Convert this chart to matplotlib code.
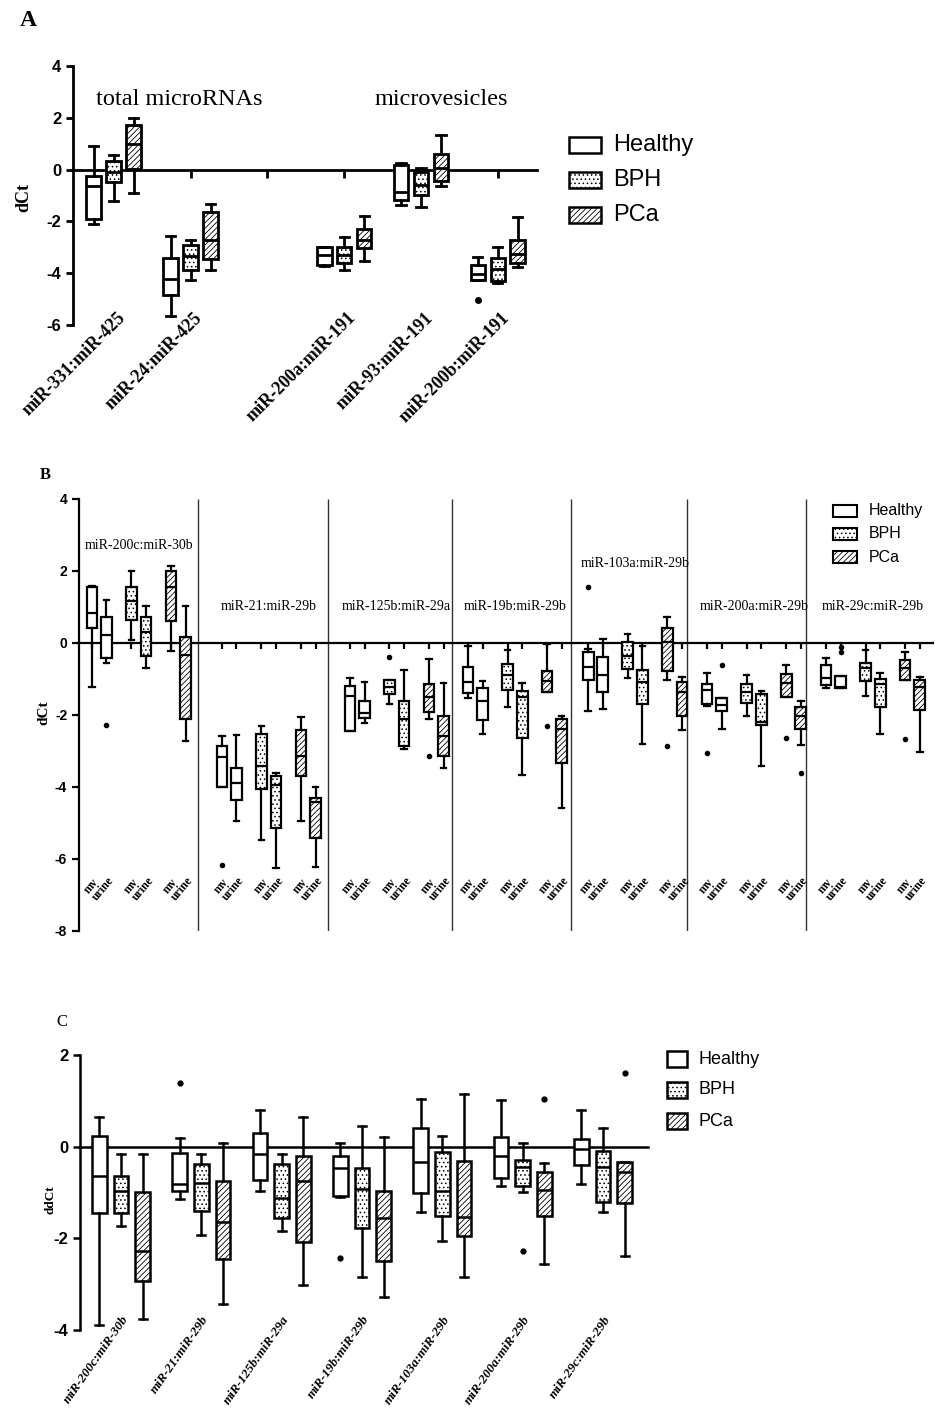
import numpy as np
import matplotlib.pyplot as plt
from matplotlib.patches import Rectangle

SERIF = ['Liberation Serif', 'DejaVu Serif']
SANS = ['Liberation Sans', 'DejaVu Sans']
NARROW = ['Liberation Sans Narrow', 'Liberation Sans', 'DejaVu Sans']
plt.rcParams['hatch.linewidth'] = 0.6

W, H = 935, 1416

# ---------------- data ----------------
groups = ['Healthy', 'BPH', 'PCa']
hatches = ['', '....', '//////']

# each box: (low whisker, q1, median, q3, high whisker); None = empty slot
a_labels = ['miR-331:miR-425', 'miR-24:miR-425', '', 'miR-200a:miR-191',
            'miR-93:miR-191', 'miR-200b:miR-191']
a_healthy = [(-2.1, -1.89, -0.64, -0.26, 0.93), (-5.66, -4.85, -4.21, -3.41, -2.55), None,
             (-3.73, -3.67, -3.31, -2.99, -2.97), (-1.38, -1.16, -0.86, 0.17, 0.26),
             (-4.27, -4.27, -4.05, -3.69, -3.38)]
a_bph = [(-1.2, -0.49, -0.09, 0.35, 0.55), (-4.25, -3.89, -3.35, -2.9, -2.73), None,
         (-3.89, -3.6, -3.28, -2.99, -2.61), (-1.44, -0.97, -0.58, -0.1, 0.06),
         (-4.38, -4.31, -3.84, -3.41, -2.99)]
a_pca = [(-0.9, 0.03, 1.0, 1.74, 1.98), (-3.89, -3.47, -2.7, -1.63, -1.31), None,
         (-3.54, -3.02, -2.7, -2.29, -1.8), (-0.62, -0.45, 0.06, 0.62, 1.33),
         (-3.77, -3.6, -3.26, -2.7, -1.84)]
a_fliers = [(0, 5, -5.02)]  # (group, category, value)

b_titles = ['miR-200c:miR-30b', 'miR-21:miR-29b', 'miR-125b:miR-29a', 'miR-19b:miR-29b',
            'miR-103a:miR-29b', 'miR-200a:miR-29b', 'miR-29c:miR-29b']
b_samples = ['mv', 'urine']
b_healthy_mv = [(-1.23, 0.41, 0.83, 1.55, 1.58), (-3.99, -3.99, -3.16, -2.87, -2.57),
                (-2.45, -2.45, -1.48, -1.19, -0.98), (-1.53, -1.39, -1.07, -0.68, -0.09),
                (-1.88, -1.03, -0.68, -0.26, -0.17), (-1.76, -1.69, -1.30, -1.14, -0.84),
                (-1.25, -1.16, -0.98, -0.61, -0.42)]
b_healthy_urine = [(-0.56, -0.43, 0.22, 0.73, 1.2), (-4.95, -4.35, -3.89, -3.47, -2.56),
                   (-2.23, -2.08, -1.94, -1.6, -1.07), (-2.53, -2.13, -1.6, -1.26, -1.05),
                   (-1.83, -1.35, -0.89, -0.4, 0.11), (-2.39, -1.88, -1.71, -1.53, -1.53),
                   (-1.26, -1.26, -1.23, -0.91, -0.91)]
b_bph_mv = [(0.09, 0.64, 1.18, 1.56, 2.0), (-5.46, -4.06, -3.41, -2.53, -2.3),
            (-1.69, -1.42, -1.23, -1.02, -1.02), (-1.79, -1.31, -0.89, -0.58, -0.19),
            (-0.98, -0.72, -0.35, 0.04, 0.25), (-2.02, -1.68, -1.37, -1.14, -0.88),
            (-1.48, -1.05, -0.7, -0.56, -0.19)]
b_bph_urine = [(-0.7, -0.35, 0.3, 0.73, 1.04), (-6.26, -5.15, -3.94, -3.69, -3.61),
               (-2.94, -2.87, -2.11, -1.6, -0.74), (-3.66, -2.64, -1.51, -1.32, -1.11),
               (-2.81, -1.69, -1.07, -0.74, -0.09), (-3.41, -2.27, -2.2, -1.42, -1.32),
               (-2.53, -1.79, -1.14, -1.0, -0.83)]
b_pca_mv = [(-0.23, 0.6, 1.55, 2.0, 2.15), (-4.95, -3.69, -3.13, -2.41, -2.06),
            (-2.11, -1.91, -1.49, -1.14, -0.44), (-1.35, -1.35, -1.05, -0.79, -0.03),
            (-1.02, -0.79, 0.04, 0.41, 0.73), (-1.51, -1.51, -1.11, -0.86, -0.61),
            (-1.02, -1.02, -0.69, -0.47, -0.26)]
b_pca_urine = [(-2.73, -2.11, -0.32, 0.16, 1.04), (-6.23, -5.42, -4.43, -4.31, -3.99),
               (-3.47, -3.15, -2.57, -2.02, -1.11), (-4.58, -3.33, -2.39, -2.11, -2.02),
               (-2.41, -2.02, -1.35, -1.09, -0.95), (-2.83, -2.39, -2.02, -1.79, -1.6),
               (-3.04, -1.86, -1.23, -1.03, -0.94)]
# (group, sample, pair, value)
b_fliers = [(0, 1, 0, -2.27), (0, 0, 1, -6.17), (1, 0, 2, -0.4), (2, 0, 2, -3.13),
            (2, 0, 3, -2.3), (0, 0, 4, 1.55), (2, 0, 4, -2.87), (0, 0, 5, -3.06),
            (0, 1, 5, -0.61), (2, 0, 5, -2.65), (2, 1, 5, -3.61), (0, 1, 6, -0.26),
            (0, 1, 6, -0.12), (2, 0, 6, -2.67)]

c_labels = ['miR-200c:miR-30b', 'miR-21:miR-29b', 'miR-125b:miR-29a', 'miR-19b:miR-29b',
            'miR-103a:miR-29b', 'miR-200a:miR-29b', 'miR-29c:miR-29b']
c_healthy = [(-3.89, -1.45, -0.64, 0.23, 0.64), (-1.14, -0.97, -0.81, -0.13, 0.18),
             (-0.96, -0.73, -0.15, 0.29, 0.81), (-1.1, -1.07, -0.46, -0.2, 0.09),
             (-1.43, -1.02, -0.34, 0.41, 1.05), (-0.85, -0.68, -0.2, 0.2, 1.02),
             (-0.82, -0.39, -0.05, 0.17, 0.79)]
c_bph = [(-1.73, -1.45, -0.96, -0.64, -0.17), (-1.93, -1.4, -0.8, -0.38, -0.17),
         (-1.84, -1.55, -1.11, -0.38, -0.17), (-2.84, -1.77, -0.92, -0.46, 0.46),
         (-2.05, -1.51, -0.96, -0.11, 0.23), (-1.0, -0.85, -0.44, -0.29, 0.07),
         (-1.43, -1.21, -0.45, -0.09, 0.4)]
c_pca = [(-3.77, -2.93, -2.28, -1.0, -0.15), (-3.43, -2.46, -1.65, -0.74, 0.09),
         (-3.02, -2.07, -0.74, -0.2, 0.64), (-3.27, -2.49, -1.55, -0.97, 0.2),
         (-2.84, -1.96, -1.54, -0.31, 1.14), (-2.55, -1.51, -0.95, -0.56, -0.35),
         (-2.38, -1.24, -0.56, -0.33, -0.33)]
c_fliers = [(0, 1, 1.38), (0, 3, -2.42), (1, 5, -2.27), (2, 5, 1.03), (2, 6, 1.6)]

# ---------------- layout helpers ----------------
def fx(px):
    return px / W


def fy(py):
    return 1 - py / H


def draw_boxes(ax, rows, xs, fl, hatch, width, capw, lw, ms):
    stats, pos = [], []
    for i, r in enumerate(rows):
        if r is None:
            continue
        stats.append(dict(whislo=r[0], q1=r[1], med=r[2], q3=r[3], whishi=r[4],
                          fliers=fl.get(i, [])))
        pos.append(xs[i])
    ax.bxp(stats, positions=pos, widths=width, capwidths=capw, patch_artist=True,
           manage_ticks=False, zorder=3,
           boxprops=dict(facecolor='white', edgecolor='black', linewidth=lw, hatch=hatch),
           medianprops=dict(color='black', linewidth=lw),
           whiskerprops=dict(color='black', linewidth=lw),
           capprops=dict(color='black', linewidth=lw),
           flierprops=dict(marker='o', markerfacecolor='black', markeredgecolor='black',
                           markersize=ms))


def base_axes(rect, ylim, yticks, lw, fs):
    ax = fig.add_axes(rect)
    ax.set_ylim(*ylim)
    ax.set_yticks(yticks)
    ax.set_yticklabels([str(t) for t in yticks], fontweight='bold', fontsize=fs, family=SANS)
    for s in ['top', 'right']:
        ax.spines[s].set_visible(False)
    ax.spines['bottom'].set_position(('data', 0))
    ax.spines['bottom'].set_linewidth(lw)
    ax.spines['left'].set_linewidth(lw)
    ax.tick_params(axis='y', width=lw, length=5)
    ax.tick_params(axis='x', labelbottom=False)
    ax.patch.set_alpha(0)
    return ax


def legend(x, ys, w, h, fs, family, lw):
    for k, g in enumerate(groups):
        fig.add_artist(Rectangle((fx(x), fy(ys[k] + h / 2)), w / W, h / H,
                                 transform=fig.transFigure, facecolor='white',
                                 edgecolor='black', hatch=hatches[k], linewidth=lw))
        fig.text(fx(x + w + 12), fy(ys[k]), g, fontsize=fs, family=family, va='center')


fig = plt.figure(figsize=(W / 100, H / 100), dpi=100)

# ---------------- panel A ----------------
axA = base_axes([fx(73), fy(325), fx(537 - 73), 259 / H], (-6, 4), [4, 2, 0, -2, -4, -6], 2, 12)
axA.set_xlim(-0.53, 5.51)
axA.set_xticks(range(len(a_labels)))
axA.tick_params(axis='x', direction='out', length=6, width=2)
a_rows = [a_healthy, a_bph, a_pca]
for g in range(3):
    xs = [i + (g - 1) * 0.26 for i in range(len(a_labels))]
    fl = {}
    for gg, c, v in a_fliers:
        if gg == g:
            fl.setdefault(c, []).append(v)
    draw_boxes(axA, a_rows[g], xs, fl, hatches[g], 0.19, 0.12, 2, 4)
for i, lab in enumerate(a_labels):
    if lab:
        axA.text(i + 0.12, -5.62, lab, rotation=45, rotation_mode='anchor', ha='right',
                 va='center', fontsize=13, fontweight='bold', family=SERIF)
axA.text(0.85, 2.7, 'total microRNAs', ha='center', va='center', fontsize=17.5, family=SERIF)
axA.text(4.27, 2.7, 'microvesicles', ha='center', va='center', fontsize=17.5, family=SERIF)
fig.text(fx(24), fy(197), 'dCt', rotation=90, ha='center', va='center', fontsize=13,
         fontweight='bold', family=SERIF)
fig.text(fx(20), fy(20), 'A', ha='left', va='center', fontsize=17, fontweight='bold', family=SERIF)
legend(569, [145, 180, 215], 32, 16, 17, SANS, 1.8)

# ---------------- panel B ----------------
b_group_x = [0, 3.29, 6.53, 9.52, 12.56, 15.57, 18.58]
b_sep_x = [2.50, 5.79, 8.93, 11.94, 14.88, 17.89]
axB = base_axes([fx(79), fy(931), fx(933 - 79), 432 / H], (-8, 4),
                [4, 2, 0, -2, -4, -6, -8], 1.6, 10)
axB.set_xlim(-0.51, 21.1)
b_rows = [[b_healthy_mv, b_healthy_urine], [b_bph_mv, b_bph_urine], [b_pca_mv, b_pca_urine]]
all_x = []
for g in range(3):
    for s in range(2):
        xs = [b_group_x[p] + g + (s - 0.5) * 0.37 for p in range(len(b_titles))]
        all_x += xs
        fl = {}
        for gg, ss, p, v in b_fliers:
            if gg == g and ss == s:
                fl.setdefault(p, []).append(v)
        draw_boxes(axB, b_rows[g][s], xs, fl, hatches[g], 0.27, 0.14, 1.6, 3)
    # one two-line "mv / urine" label per pair
    for p in range(len(b_titles)):
        axB.text(b_group_x[p] + g, -6.72, '\n'.join(b_samples), rotation=50,
                 rotation_mode='anchor', ha='center', va='center', multialignment='left',
                 linespacing=0.85, fontsize=8.5, fontweight='bold', family=SERIF)
axB.set_xticks(sorted(all_x))
axB.tick_params(axis='x', direction='out', length=4, width=1.6)
axB.vlines(b_sep_x, -8, 4, color='#333333', linewidth=1)
for p, t in enumerate(b_titles):
    ty = 1.0
    if p == 0:
        ty = 2.72
    elif p == 4:
        ty = 2.22
    axB.text(b_group_x[p] + 1, ty, t, ha='center', va='center', fontsize=10, family=SERIF)
fig.text(fx(44), fy(713), 'dCt', rotation=90, ha='center', va='center', fontsize=11,
         fontweight='bold', family=SERIF)
fig.text(fx(40), fy(475), 'B', ha='left', va='center', fontsize=12, fontweight='bold', family=SERIF)
legend(833, [511, 534, 557], 24, 12, 11.5, SANS, 1.5)

# ---------------- panel C ----------------
axC = base_axes([fx(80), fy(1330), fx(648 - 80), 275 / H], (-4, 2), [2, 0, -2, -4], 1.8, 12)
axC.set_xlim(-0.51, 6.56)
axC.set_xticks([])
c_rows = [c_healthy, c_bph, c_pca]
for g in range(3):
    xs = [i + (g - 1) * 0.27 for i in range(len(c_labels))]
    fl = {}
    for gg, c, v in c_fliers:
        if gg == g:
            fl.setdefault(c, []).append(v)
    draw_boxes(axC, c_rows[g], xs, fl, hatches[g], 0.18, 0.1, 1.8, 3.5)
for i, lab in enumerate(c_labels):
    axC.text(i + 0.06, -3.72, lab, rotation=55, rotation_mode='anchor', ha='right',
             va='center', fontsize=9.5, fontweight='bold', style='italic', family=SERIF,
             clip_on=False)
fig.text(fx(50), fy(1200), 'ddCt', rotation=90, ha='center', va='center', fontsize=9.5,
         fontweight='bold', family=SERIF)
fig.text(fx(56), fy(1022), 'C', ha='left', va='center', fontsize=12, family=SERIF)
legend(667, [1059, 1090, 1121], 20, 16, 13, NARROW, 1.8)

fig.savefig('out.png', dpi=100)
